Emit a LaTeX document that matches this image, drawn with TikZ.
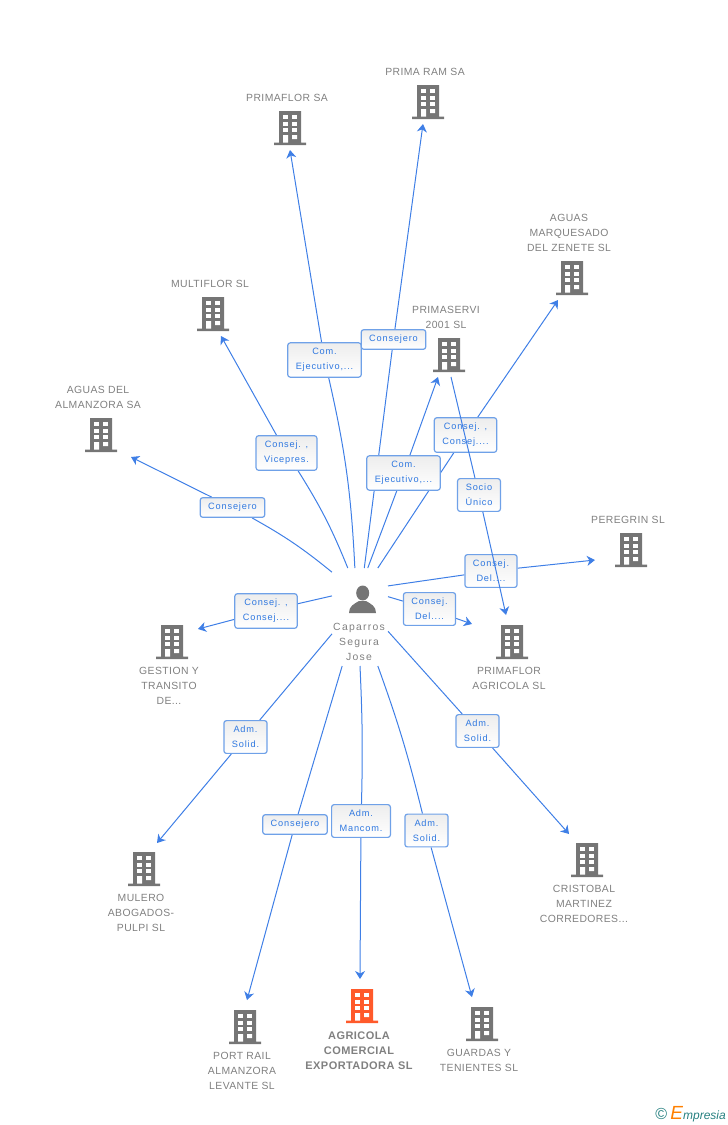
\documentclass[tikz,border=0pt]{standalone}
\usepackage{fontspec}
\setmainfont{Liberation Sans}
\newfontfamily\bldfont[LetterSpace=4]{Liberation Sans}
\newfontfamily\labfont[LetterSpace=9]{Liberation Sans}
\newfontfamily\perfont[LetterSpace=12]{Liberation Sans}
\usetikzlibrary{arrows.meta,backgrounds,positioning}
\definecolor{linkblue}{HTML}{3F7FE6}
\definecolor{labblue}{HTML}{2F78E0}
\definecolor{labedge}{HTML}{6FA1E8}
\definecolor{iconGray}{HTML}{757575}
\definecolor{txtgray}{HTML}{808080}
\definecolor{iconOrange}{HTML}{FF5A2B}
\tikzset{%
  building/.style={rectangle,inner sep=0pt,outer sep=0pt,minimum width=32pt,minimum height=34pt,
    path picture={
      \begin{scope}[shift={(path picture bounding box.center)},x=1pt,y=-1pt]
        \fill[#1] (-11,-17) rectangle (11,15) (-16,14.5) rectangle (16,17);
        \foreach \wx in {-7,2} \foreach \wy in {-13,-6,0}
          \fill[white] (\wx,\wy) rectangle +(5,4.2);
        \fill[white] (-7,7) rectangle (-2,14.5) (2,7) rectangle (7,11.2);
      \end{scope}}},
  building/.default=iconGray,
  person/.style={rectangle,inner sep=0pt,outer sep=0pt,minimum width=56pt,minimum height=98pt,
    path picture={
      \begin{scope}[shift={(path picture bounding box.center)},x=1pt,y=-1pt]
        \fill[iconGray] (2.7,-24) ellipse (6.5 and 7.5);
        \fill[iconGray] (-11,-4) .. controls (-11,-11) and (-6,-13) .. (-1,-16)
          -- (6,-16) .. controls (11,-13) and (16,-11) .. (16,-4) -- cycle;
      \end{scope}}},
  bldtext/.style={inner sep=0pt,align=center,text=txtgray,xshift=-3pt,font=\bldfont\fontsize{10.4}{15}\selectfont},
  role/.style={rectangle,rounded corners=2.5pt,draw=labedge,line width=1.2pt,top color=black!7,bottom color=white,
    inner xsep=8pt,inner ysep=5.5pt,align=center,text=labblue,font=\labfont\fontsize{9.2}{15}\selectfont},
  link/.style={draw=linkblue,line width=1pt},
  tip/.style={link,-{Stealth[length=8pt,width=10pt,inset=2.5pt]}}
}
\begin{document}
\begin{tikzpicture}[x=1pt,y=-1pt,node distance=9pt]
    \useasboundingbox (0,0) rectangle (728,1125);

    % companies
    \node (primaflor_sa) [building] at (290,128) {};
    \node (prima_ram) [building] at (428,102) {};
    \node (marquesado) [building] at (572,278) {};
    \node (multiflor) [building] at (213,314) {};
    \node (primaservi) [building] at (449,355) {};
    \node (almanzora) [building] at (101,435) {};
    \node (peregrin) [building] at (631,550) {};
    \node (gestion) [building] at (172,642) {};
    \node (primaflor_ag) [building] at (512,642) {};
    \node (mulero) [building] at (144,869) {};
    \node (cristobal) [building] at (587,860) {};
    \node (port_rail) [building] at (245,1027) {};
    \node (agricola) [building=iconOrange] at (362,1006) {};
    \node (guardas) [building] at (482,1024) {};
    \node (caparros) [person] at (360,617) {};

    \node (primaflor_sa_txt) [bldtext,above=of primaflor_sa] {PRIMAFLOR SA};
    \node (prima_ram_txt) [bldtext,above=of prima_ram] {PRIMA RAM SA};
    \node (marquesado_txt) [bldtext,above=of marquesado] {AGUAS\\MARQUESADO\\DEL ZENETE SL};
    \node (multiflor_txt) [bldtext,above=of multiflor] {MULTIFLOR SL};
    \node (primaservi_txt) [bldtext,above=of primaservi] {PRIMASERVI\\2001 SL};
    \node (almanzora_txt) [bldtext,above=of almanzora] {AGUAS DEL\\ALMANZORA SA};
    \node (peregrin_txt) [bldtext,above=of peregrin] {PEREGRIN SL};
    \node (gestion_txt) [bldtext,below=8.5pt of gestion] {GESTION Y\\TRANSITO\\DE...};
    \node (primaflor_ag_txt) [bldtext,below=8.5pt of primaflor_ag] {PRIMAFLOR\\AGRICOLA SL};
    \node (mulero_txt) [bldtext,below=8.5pt of mulero] {MULERO\\ABOGADOS-\\PULPI SL};
    \node (cristobal_txt) [bldtext,below=8.5pt of cristobal] {CRISTOBAL\\MARTINEZ\\CORREDORES...};
    \node (port_rail_txt) [bldtext,below=8.5pt of port_rail] {PORT RAIL\\ALMANZORA\\LEVANTE SL};
    \node (agricola_txt) [bldtext,below=8.5pt of agricola,font=\bldfont\bfseries\fontsize{11}{15}\selectfont] {AGRICOLA\\COMERCIAL\\EXPORTADORA SL};
    \node (guardas_txt) [bldtext,below=8.5pt of guardas] {GUARDAS Y\\TENIENTES SL};
    \node (caparros_txt) [bldtext,xshift=3pt,font=\perfont\fontsize{10.4}{15}\selectfont] at (359,642) {Caparros\\Segura\\Jose};

    % roles
    \node (lab_primaflor) [role] at (324.5,360) {Com.\\Ejecutivo,...};
    \node (lab_prima_ram) [role] at (393.5,339.5) {Consejero};
    \node (lab_multiflor) [role] at (286.5,453) {Consej. ,\\Vicepres.};
    \node (lab_almanzora) [role] at (232.5,507.5) {Consejero};
    \node (lab_primaservi) [role] at (403.5,473) {Com.\\Ejecutivo,...};
    \node (lab_marquesado) [role] at (465.5,435) {Consej. ,\\Consej....};
    \node (lab_socio) [role] at (479,495) {Socio\\Único};
    \node (lab_peregrin) [role] at (491,571) {Consej.\\Del....};
    \node (lab_primaflor_ag) [role] at (429.5,609) {Consej.\\Del....};
    \node (lab_gestion) [role] at (266,611) {Consej. ,\\Consej....};
    \node (lab_mulero) [role] at (245.5,737) {Adm.\\Solid.};
    \node (lab_port_rail) [role] at (295,824.5) {Consejero};
    \node (lab_agricola) [role] at (361,821) {Adm.\\Mancom.};
    \node (lab_guardas) [role] at (426.5,830.5) {Adm.\\Solid.};
    \node (lab_cristobal) [role] at (477.5,731) {Adm.\\Solid.};

    % arrow ends
    \coordinate (primaflor_sa_tip) at (290,150);
    \coordinate (prima_ram_tip) at (423,124);
    \coordinate (marquesado_tip) at (558,300);
    \coordinate (multiflor_tip) at (221,336);
    \coordinate (primaservi_tip) at (438,377);
    \coordinate (primaservi_out) at (451,377);
    \coordinate (almanzora_tip) at (131,457);
    \coordinate (peregrin_tip) at (595,560);
    \coordinate (gestion_tip) at (198,629);
    \coordinate (primaflor_ag_tip) at (506,615);
    \coordinate (primaflor_ag_side) at (472,624);
    \coordinate (mulero_tip) at (157,843);
    \coordinate (cristobal_tip) at (569,834);
    \coordinate (port_rail_tip) at (247,1000);
    \coordinate (agricola_tip) at (360,979);
    \coordinate (guardas_tip) at (472,997);

    \begin{scope}[on background layer]
    \path (caparros.96) edge[link,bend right=5] (lab_primaflor)
          (lab_primaflor) edge[tip] (primaflor_sa_tip);
    \path (caparros.85) edge[link] (lab_prima_ram)
          (lab_prima_ram) edge[tip] (prima_ram_tip);
    \path (caparros.104) edge[link,bend right=5] (lab_multiflor)
          (lab_multiflor) edge[tip] (multiflor_tip);
    \path (caparros.122) edge[link,bend right=5] (lab_almanzora)
          (lab_almanzora) edge[tip] (almanzora_tip);
    \path (caparros.81) edge[link] (lab_primaservi)
          (lab_primaservi) edge[tip] (primaservi_tip);
    \path (caparros.70) edge[link] (lab_marquesado)
          (lab_marquesado) edge[tip] (marquesado_tip);
    \path (caparros.48) edge[link] (lab_peregrin)
          (lab_peregrin) edge[tip] (peregrin_tip);
    \path (caparros.36) edge[link] (lab_primaflor_ag)
          (lab_primaflor_ag) edge[tip] (primaflor_ag_side);
    \path (caparros.143) edge[link] (lab_gestion)
          (lab_gestion) edge[tip] (gestion_tip);
    \path (caparros.211) edge[link] (lab_mulero)
          (lab_mulero) edge[tip] (mulero_tip);
    \path (caparros.250) edge[link] (lab_port_rail)
          (lab_port_rail) edge[tip] (port_rail_tip);
    \path (caparros.270) edge[link,bend left=2] (lab_agricola)
          (lab_agricola) edge[tip] (agricola_tip);
    \path (caparros.290) edge[link,bend left=3] (lab_guardas)
          (lab_guardas) edge[tip] (guardas_tip);
    \path (caparros.-27) edge[link] (lab_cristobal)
          (lab_cristobal) edge[tip] (cristobal_tip);
    \end{scope}

    % this one runs over the boxes
    \path (primaservi_out) edge[link] (lab_socio)
          (lab_socio) edge[tip] (primaflor_ag_tip);

    \node (logo) [anchor=east,inner sep=0pt,font=\itshape\fontsize{12}{12}\selectfont,text=teal!70!gray] at (726,1114)
      {{\upshape\fontsize{16}{12}\selectfont ©} {\color{orange}\fontsize{19}{12}\selectfont E}mpresia};
\end{tikzpicture}
\end{document}
